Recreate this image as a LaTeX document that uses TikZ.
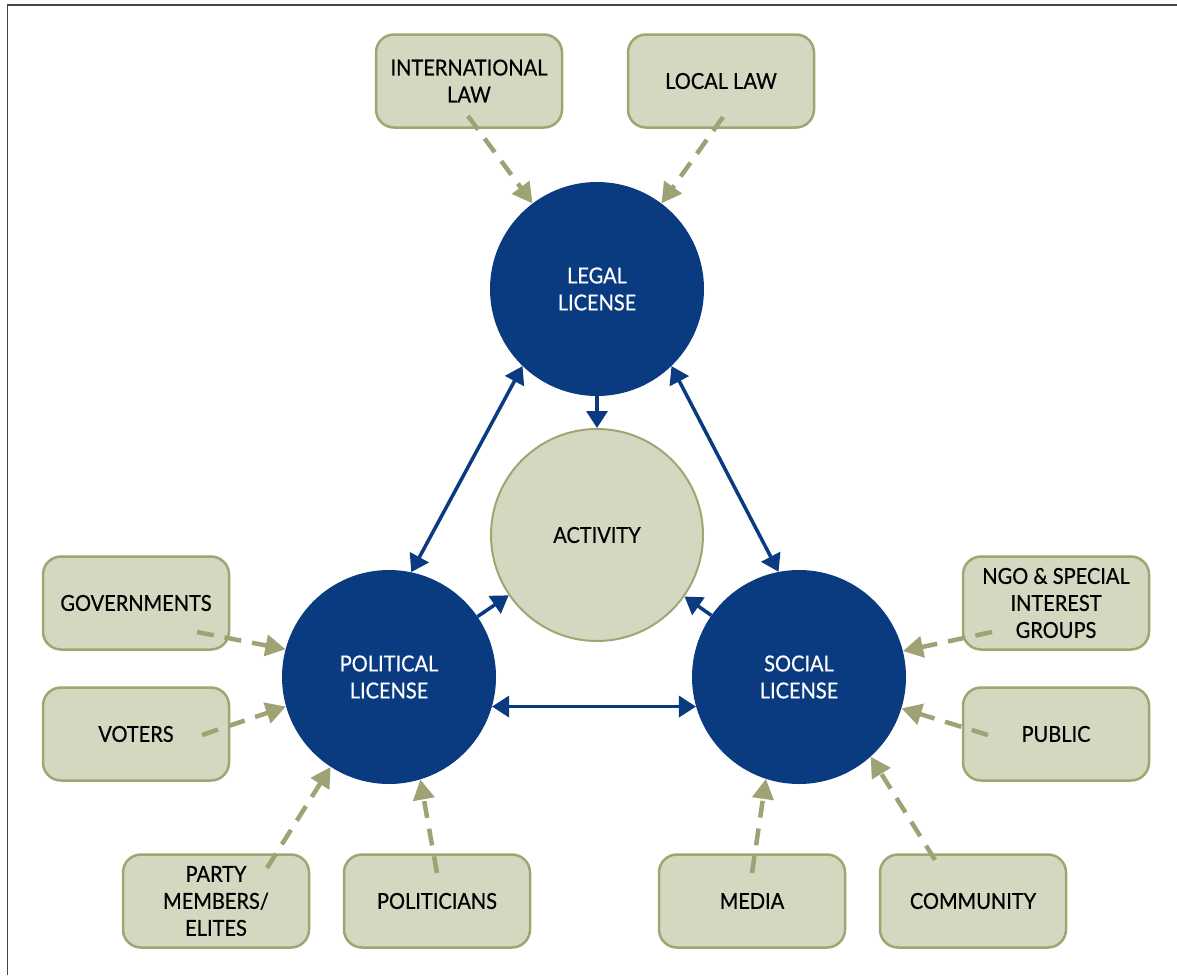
\documentclass[tikz,border=0pt]{standalone}
\usepackage{fontspec}
\setmainfont{Lato}[FakeStretch=0.91,FakeBold=0.6]
\usetikzlibrary{arrows.meta}
\definecolor{navy}{RGB}{10,58,128}
\definecolor{sage}{RGB}{213,216,192}
\definecolor{sageline}{RGB}{160,165,114}
\definecolor{olive}{RGB}{158,162,117}
\definecolor{framegray}{RGB}{70,70,70}
\begin{document}
\begin{tikzpicture}[x=1pt,y=-1pt,
  box/.style={draw=sageline, line width=2.5pt, fill=sage, rounded corners=18pt,
    minimum width=186pt, minimum height=93pt, align=center, inner sep=0pt,
    font=\fontsize{22}{27}\selectfont, text=black},
  lic/.style={circle, fill=navy, minimum size=214pt, inner sep=0pt, align=center,
    text=white, font=\fontsize{22}{27}\selectfont},
  actv/.style={circle, fill=sage, draw=sageline, line width=2pt, minimum size=212pt,
    inner sep=0pt, align=center, text=black, font=\fontsize{22}{27}\selectfont},
  feed/.style={draw=olive, line width=4.5pt, dash pattern=on 17pt off 11pt,
    -{Triangle[length=20pt,width=21pt,fill=olive]}},
  link/.style={draw=navy, line width=3.5pt,
    {Triangle[length=17pt,width=21pt,fill=navy]}-{Triangle[length=17pt,width=21pt,fill=navy]}},
  oneway/.style={draw=navy, line width=3.5pt, -{Triangle[length=17pt,width=21pt,fill=navy]}}
]
\useasboundingbox (0,0) rectangle (1177,975);
\draw[framegray, line width=1.5pt] (7.5,975) -- (7.5,5) -- (1177,5);

% circles
\node[lic] (legal) at (597,289) {LEGAL\\LICENSE};
\node[actv] (act) at (597,535) {ACTIVITY};
\node[lic] (pol) at (389,677) {POLITICAL\\LICENSE};
\node[lic] (soc) at (799,677) {SOCIAL\\LICENSE};

% boxes
\node[box] (intl) at (469,81) {INTERNATIONAL\\LAW};
\node[box] (local) at (721,81) {LOCAL LAW};
\node[box] (gov) at (136,603) {GOVERNMENTS};
\node[box] (vot) at (136,734) {VOTERS};
\node[box] (party) at (216,901) {PARTY\\MEMBERS/\\ELITES};
\node[box] (polit) at (437,901) {POLITICIANS};
\node[box] (media) at (752,901) {MEDIA};
\node[box] (comm) at (973,901) {COMMUNITY};
\node[box] (ngo) at (1056,603) {NGO \& SPECIAL\\INTEREST\\GROUPS};
\node[box] (pub) at (1056,734) {PUBLIC};

% start points of the dashed connectors (inside the boxes)
\coordinate (s-intl) at (468,116);
\coordinate (s-local) at (723,117);
\coordinate (s-gov) at (197,632);
\coordinate (s-vot) at (202,735);
\coordinate (s-party) at (267,868);
\coordinate (s-polit) at (437,873);
\coordinate (s-media) at (752,873);
\coordinate (s-comm) at (935,860);
\coordinate (s-ngo) at (992,632);
\coordinate (s-pub) at (988,735);

\draw[feed] (s-intl) -- (legal.127);
\draw[feed] (s-local) -- (legal.53);
\draw[feed] (s-gov) -- (pol.165);
\draw[feed] (s-vot) -- (pol.196);
\draw[feed] (s-party) -- (pol.237);
\draw[feed] (s-polit) -- (pol.-73);
\draw[feed] (s-media) -- (soc.-108);
\draw[feed] (s-comm) -- (soc.-48);
\draw[feed] (s-ngo) -- (soc.14);
\draw[feed] (s-pub) -- (soc.-17);

% blue links
\draw[link] (legal.-134.5) -- (pol.78);
\draw[link] (legal.-46) -- (soc.101.5);
\draw[link] (pol.-16.8) -- (soc.196.8);
\draw[oneway] (legal) -- (act);
\draw[oneway] (pol) -- (act);
\draw[oneway] (soc) -- (act);
\end{tikzpicture}
\end{document}
